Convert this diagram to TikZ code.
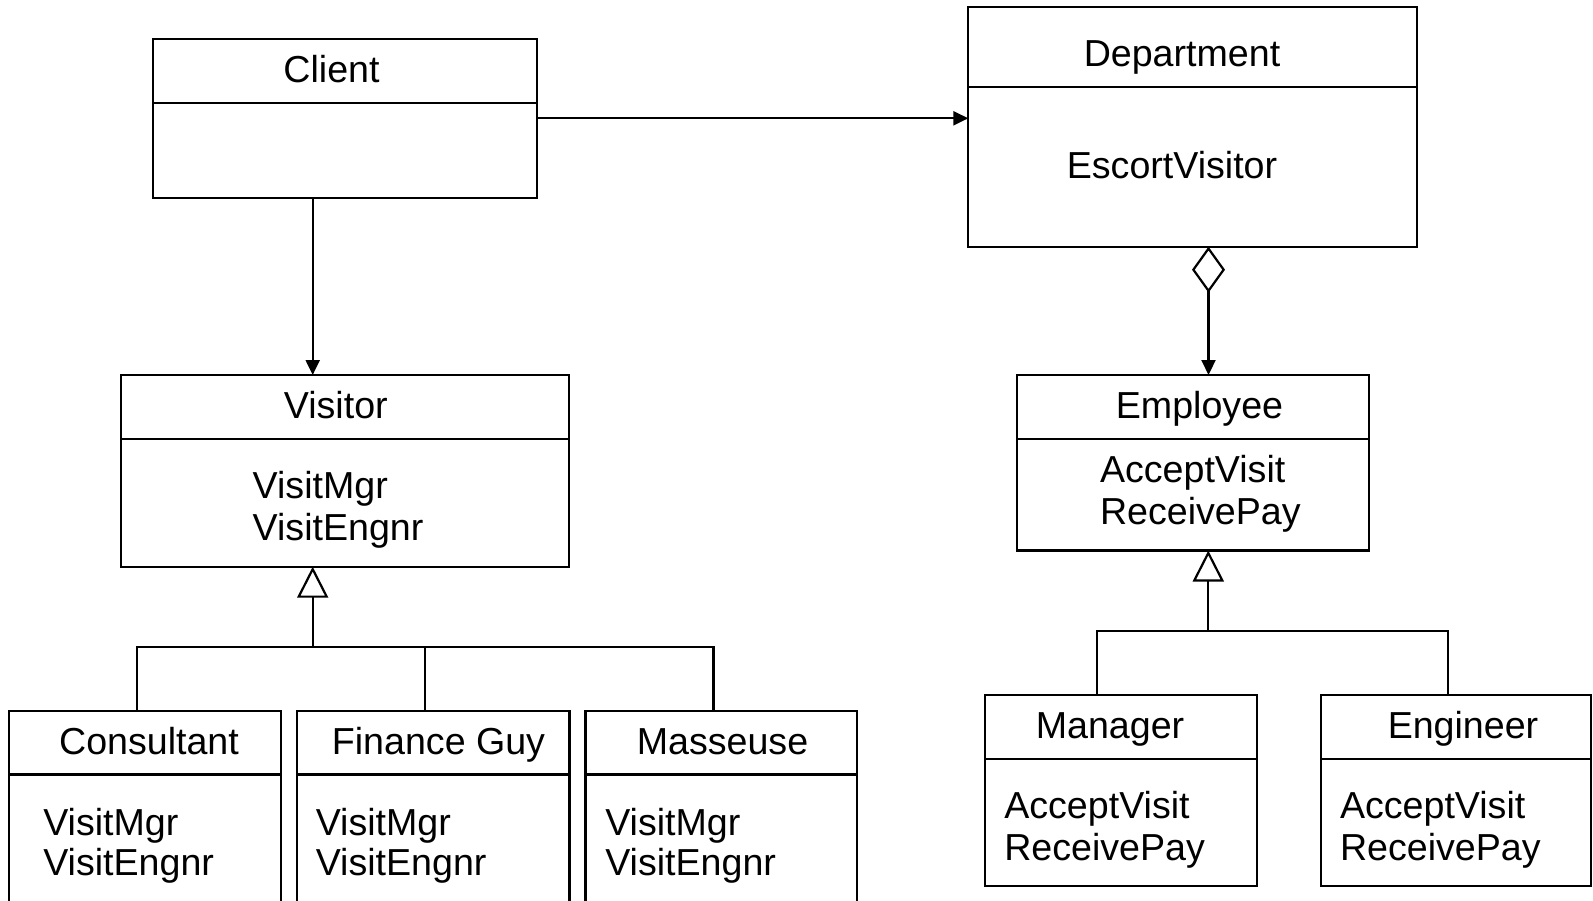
\documentclass[tikz,border=0pt]{standalone}
\usepackage{fontspec}
\setmainfont{Liberation Sans}
\usetikzlibrary{arrows.meta}
\begin{document}
\begin{tikzpicture}[x=1pt,y=-1pt,
  every node/.style={inner sep=0pt, outer sep=0pt},
  umlbox/.style={draw, line width=2.2pt, anchor=north west},
  ttl/.style={anchor=base, font=\fontsize{37.6}{41.7}\selectfont},
  op/.style={anchor=base west, font=\fontsize{37.6}{41.7}\selectfont},
  conn/.style={line width=2.2pt},
  assoc/.style={conn, -{Triangle[length=15pt,width=14pt]}},
  inherit/.style={conn, -{Triangle[open,length=31pt,width=31pt]}},
  aggr/.style={conn, {Diamond[open,length=46pt,width=33pt]}-{Triangle[length=15pt,width=14pt]}}
]
\useasboundingbox (0,0) rectangle (1593,901);
\clip (0,0) rectangle (1593,901);

% boxes
\node[umlbox, minimum width=384pt, minimum height=159pt] (client) at (152.7,39.3) {};
\node[umlbox, minimum width=448.4pt, minimum height=239.4pt] (dept) at (968.3,7.3) {};
\node[umlbox, minimum width=448.3pt, minimum height=191.7pt] (visitor) at (121,375) {};
\node[umlbox, minimum width=352pt, minimum height=175.5pt] (employee) at (1017,375) {};
\node[umlbox, minimum width=271.7pt, minimum height=230pt] (consultant) at (9,711) {};
\node[umlbox, minimum width=272.5pt, minimum height=230pt] (finance) at (297,711) {};
\node[umlbox, minimum width=271.5pt, minimum height=230pt] (masseuse) at (585.5,711) {};
\node[umlbox, minimum width=271.7pt, minimum height=191pt] (manager) at (985,695) {};
\node[umlbox, minimum width=270pt, minimum height=191pt] (engineer) at (1321,695) {};

% dividers
\draw[conn] ([yshift=-63.4pt]client.north west) -- ([yshift=-63.4pt]client.north east);
\draw[conn] ([yshift=-80pt]dept.north west) -- ([yshift=-80pt]dept.north east);
\draw[conn] ([yshift=-63.7pt]visitor.north west) -- ([yshift=-63.7pt]visitor.north east);
\draw[conn] ([yshift=-64pt]employee.north west) -- ([yshift=-64pt]employee.north east);
\draw[conn] ([yshift=-63.5pt]consultant.north west) -- ([yshift=-63.5pt]consultant.north east);
\draw[conn] ([yshift=-63.5pt]finance.north west) -- ([yshift=-63.5pt]finance.north east);
\draw[conn] ([yshift=-63.5pt]masseuse.north west) -- ([yshift=-63.5pt]masseuse.north east);
\draw[conn] ([yshift=-64pt]manager.north west) -- ([yshift=-64pt]manager.north east);
\draw[conn] ([yshift=-64pt]engineer.north west) -- ([yshift=-64pt]engineer.north east);

% texts
\node[ttl] (clientT) at (331.5,82.7) {Client};
\node[ttl] (deptT) at (1182,67) {Department};
\node[ttl] (deptO) at (1172,178.3) {EscortVisitor};
\node[ttl] (visitorT) at (335.8,418.3) {Visitor};
\node[op] (visitorO1) at (252.7,498.3) {VisitMgr};
\node[op] (visitorO2) at (252.7,540.7) {VisitEngnr};
\node[ttl] (employeeT) at (1199.5,418.3) {Employee};
\node[op] (employeeO1) at (1100,482) {AcceptVisit};
\node[op] (employeeO2) at (1100,524) {ReceivePay};
\node[ttl] (consultantT) at (149,754.3) {Consultant};
\node[op] (consultantO1) at (43.3,835) {VisitMgr};
\node[op] (consultantO2) at (43.3,875.7) {VisitEngnr};
\node[ttl] (financeT) at (438.5,754.3) {Finance Guy};
\node[op] (financeO1) at (315.8,835) {VisitMgr};
\node[op] (financeO2) at (315.8,875.7) {VisitEngnr};
\node[ttl] (masseuseT) at (722.5,754.3) {Masseuse};
\node[op] (masseuseO1) at (605.3,835) {VisitMgr};
\node[op] (masseuseO2) at (605.3,875.7) {VisitEngnr};
\node[ttl] (managerT) at (1110,738.3) {Manager};
\node[op] (managerO1) at (1004.3,818.3) {AcceptVisit};
\node[op] (managerO2) at (1004.3,860) {ReceivePay};
\node[ttl] (engineerT) at (1463,738.3) {Engineer};
\node[op] (engineerO1) at (1340,818.3) {AcceptVisit};
\node[op] (engineerO2) at (1340,860) {ReceivePay};

% connectors
\coordinate (ay) at (0,118.3);
\draw[assoc] (client.east |- ay) -- (dept.west |- ay);
\coordinate (cv) at (312.7,0);
\draw[assoc] (client.south -| cv) -- (visitor.north -| cv);

\coordinate (vj) at (312.7,646.7);
\coordinate (vb1) at (136.7,646.7);
\coordinate (vb2) at (425,646.7);
\coordinate (vb3) at (713.5,646.7);
\draw[inherit] (vj) -- (visitor.south -| vj);
\draw[conn] (consultant.north -| vb1) -- (vb1) -- (vb3) -- (masseuse.north -| vb3);
\draw[conn] (finance.north -| vb2) -- (vb2);

\coordinate (dm) at (1208.5,0);
\draw[aggr] (dept.south -| dm) -- (employee.north -| dm);

\coordinate (ej) at (1208.3,630.7);
\coordinate (eb1) at (1097,630.7);
\coordinate (eb2) at (1448.3,630.7);
\draw[inherit] (ej) -- (employee.south -| ej);
\draw[conn] (manager.north -| eb1) -- (eb1) -- (eb2) -- (engineer.north -| eb2);
\end{tikzpicture}
\end{document}
